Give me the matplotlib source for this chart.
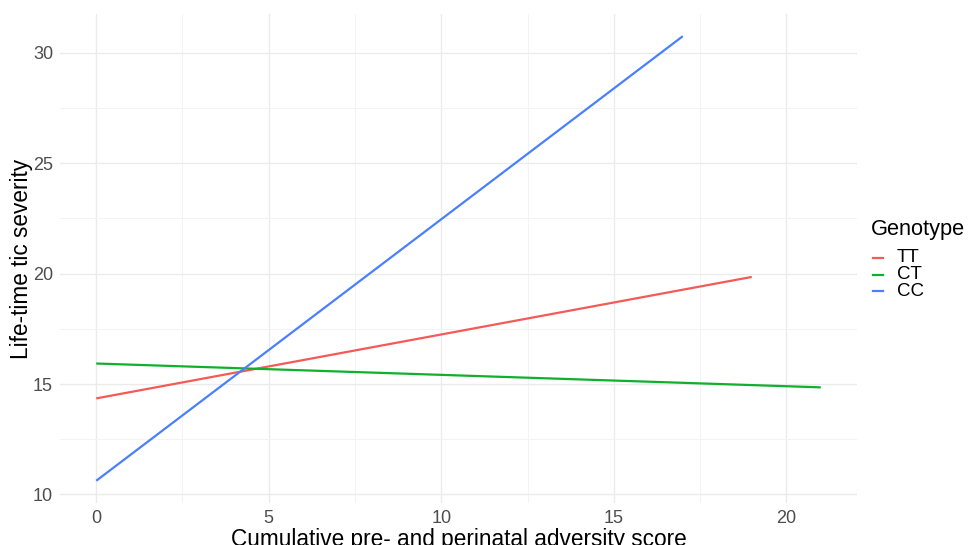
import matplotlib
matplotlib.use("Agg")
import matplotlib.pyplot as plt
from matplotlib.lines import Line2D

plt.rcParams["font.family"] = ["Liberation Sans", "DejaVu Sans"]

GENOTYPES = ["TT", "CT", "CC"]
COLORS = ["#F45A58", "#10B02C", "#4A80FB"]
# start / end of each fitted line (adversity score, tic severity)
X_START = [0, 0, 0]
X_END = [19, 21, 17]
Y_START = [14.35, 15.93, 10.62]
Y_END = [19.85, 14.85, 30.75]

X_TICKS = [0, 5, 10, 15, 20]
Y_TICKS = [10, 15, 20, 25, 30]

W, H = 969, 545
fig = plt.figure(figsize=(W / 100, H / 100), dpi=100)
ax = fig.add_axes([60 / W, 1 - 503 / H, (857 - 60) / W, (503 - 14) / H])

for g, c, x0, x1, y0, y1 in zip(GENOTYPES, COLORS, X_START, X_END, Y_START, Y_END):
  ax.plot([x0, x1], [y0, y1], color=c, lw=1.6, solid_capstyle="butt", zorder=3)

# ggplot-like expansion (5%)
xmin, xmax = min(X_START), max(X_END)
ymin = min(Y_START + Y_END)
ymax = max(Y_START + Y_END)
xpad = (xmax - xmin) * 0.05
ypad = (ymax - ymin) * 0.05
ax.set_xlim(xmin - xpad, xmax + xpad)
ax.set_ylim(ymin - ypad, ymax + ypad)

ax.set_xticks(X_TICKS)
ax.set_yticks(Y_TICKS)
ax.set_xticks([2.5, 7.5, 12.5, 17.5], minor=True)
ax.set_yticks([12.5, 17.5, 22.5, 27.5], minor=True)
ax.grid(which="major", color="#EBEBEB", lw=1.0, zorder=0)
ax.grid(which="minor", color="#F3F3F3", lw=0.7, zorder=0)
ax.set_axisbelow(True)
for s in ax.spines.values():
  s.set_visible(False)
ax.tick_params(which="both", length=0, labelsize=13, labelcolor="#4D4D4D", pad=5)

ax.set_xlabel("Cumulative pre- and perinatal adversity score", fontsize=16.3, labelpad=1)
ax.set_ylabel("Life-time tic severity", fontsize=16.3)
ax.yaxis.set_label_coords(-0.034, 0.5)

# legend drawn by hand (ggplot-style spacing), positions in figure pixels
fig.text(871 / W, 1 - 229 / H, "Genotype", fontsize=15.7, ha="left", va="center")
row_y = 258
for g, c in zip(GENOTYPES, COLORS):
  yf = 1 - row_y / H
  fig.add_artist(Line2D([873 / W, 883 / W], [yf, yf], color=c, lw=1.6,
                        transform=fig.transFigure))
  fig.text(897 / W, yf, g, fontsize=13.5, ha="left", va="center")
  row_y += 16.5

fig.savefig("out.png", dpi=100)
